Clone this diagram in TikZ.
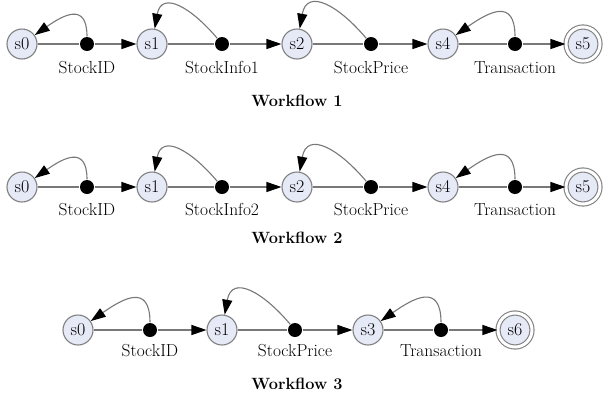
\documentclass[tikz,border=0pt]{standalone}
\usetikzlibrary{arrows.meta}
\definecolor{stateFill}{RGB}{230,234,247}
\definecolor{stateLine}{RGB}{128,128,128}
\definecolor{edgeLine}{RGB}{120,120,120}
\tikzset{
    every picture/.style={
        line width=1.1pt
    },
    % States of the workflow
    state/.style={
        circle,
        draw=stateLine,
        fill=stateFill,
        minimum size=30pt,
        inner sep=0pt,
        font=\fontsize{18}{20}\selectfont
    },
    % Accepting state with a double ring
    final/.style={
        state,
        double=white,
        double distance=3pt,
        minimum size=34pt
    },
    % Black dots standing for the messages
    msg dot/.style={
        circle,
        fill=black,
        minimum size=14pt,
        inner sep=0pt
    },
    % Labels under the dots
    msg label/.style={
        font=\fontsize{17.4}{20}\selectfont
    },
    % Workflow titles
    flow title/.style={
        font=\fontsize{16.3}{19}\selectfont\bfseries
    },
    % Plain and arrowed connectors
    plain edge/.style={
        draw=edgeLine
    },
    arrow edge/.style={
        draw=edgeLine,
        -{Triangle[length=15pt,width=10pt,color=black]}
    },
    % Loops back to the state
    round back/.style={
        arrow edge, out=90, in=35, looseness=1.7
    },
    peak back/.style={
        arrow edge, out=130, in=80, looseness=1.6
    }
}

\begin{document}
\begin{tikzpicture}[x=1pt,y=-1pt]

% Set the canvas size
\useasboundingbox (0,0) rectangle (605,397);

% Workflow 1
\node[state] (a0) at (22,44) {s0};
\node[msg dot] (ad1) at (87,44) {};
\node[state] (a1) at (152,44) {s1};
\node[msg dot] (ad2) at (222,44) {};
\node[state] (a2) at (297,44) {s2};
\node[msg dot] (ad3) at (371,44) {};
\node[state] (a4) at (443,44) {s4};
\node[msg dot] (ad4) at (515,44) {};
\node[final] (a5) at (583,44) {s5};

\node[msg label] (al1) at (87,68) {StockID};
\node[msg label] (al2) at (222,68) {StockInfo1};
\node[msg label] (al3) at (371,68) {StockPrice};
\node[msg label] (al4) at (515,68) {Transaction};
\node[flow title] (at) at (297,101) {Workflow 1};

\draw[plain edge] (a0) -- (ad1);
\draw[arrow edge] (ad1) -- (a1);
\draw[plain edge] (a1) -- (ad2);
\draw[arrow edge] (ad2) -- (a2);
\draw[plain edge] (a2) -- (ad3);
\draw[arrow edge] (ad3) -- (a4);
\draw[plain edge] (a4) -- (ad4);
\draw[arrow edge] (ad4) -- (a5);

\draw[round back] (ad1) to (a0);
\draw[peak back] (ad2) to (a1);
\draw[peak back] (ad3) to (a2);
\draw[round back] (ad4) to (a4);

% Workflow 2
\node[state] (b0) at (22,187) {s0};
\node[msg dot] (bd1) at (87,187) {};
\node[state] (b1) at (152,187) {s1};
\node[msg dot] (bd2) at (222,187) {};
\node[state] (b2) at (297,187) {s2};
\node[msg dot] (bd3) at (371,187) {};
\node[state] (b4) at (443,187) {s4};
\node[msg dot] (bd4) at (515,187) {};
\node[final] (b5) at (583,187) {s5};

\node[msg label] (bl1) at (87,210) {StockID};
\node[msg label] (bl2) at (222,210) {StockInfo2};
\node[msg label] (bl3) at (371,210) {StockPrice};
\node[msg label] (bl4) at (515,210) {Transaction};
\node[flow title] (bt) at (297,238) {Workflow 2};

\draw[plain edge] (b0) -- (bd1);
\draw[arrow edge] (bd1) -- (b1);
\draw[plain edge] (b1) -- (bd2);
\draw[arrow edge] (bd2) -- (b2);
\draw[plain edge] (b2) -- (bd3);
\draw[arrow edge] (bd3) -- (b4);
\draw[plain edge] (b4) -- (bd4);
\draw[arrow edge] (bd4) -- (b5);

\draw[round back] (bd1) to (b0);
\draw[peak back] (bd2) to (b1);
\draw[peak back] (bd3) to (b2);
\draw[round back] (bd4) to (b4);

% Workflow 3
\node[state] (c0) at (78,330) {s0};
\node[msg dot] (cd1) at (150,330) {};
\node[state] (c1) at (222,330) {s1};
\node[msg dot] (cd2) at (295,330) {};
\node[state] (c3) at (368,330) {s3};
\node[msg dot] (cd3) at (441,330) {};
\node[final] (c6) at (515,330) {s6};

\node[msg label] (cl1) at (150,351) {StockID};
\node[msg label] (cl2) at (295,351) {StockPrice};
\node[msg label] (cl3) at (441,351) {Transaction};
\node[flow title] (ct) at (297,384) {Workflow 3};

\draw[plain edge] (c0) -- (cd1);
\draw[arrow edge] (cd1) -- (c1);
\draw[plain edge] (c1) -- (cd2);
\draw[arrow edge] (cd2) -- (c3);
\draw[plain edge] (c3) -- (cd3);
\draw[arrow edge] (cd3) -- (c6);

\draw[round back] (cd1) to (c0);
\draw[peak back] (cd2) to (c1);
\draw[round back] (cd3) to (c3);

\end{tikzpicture}
\end{document}
